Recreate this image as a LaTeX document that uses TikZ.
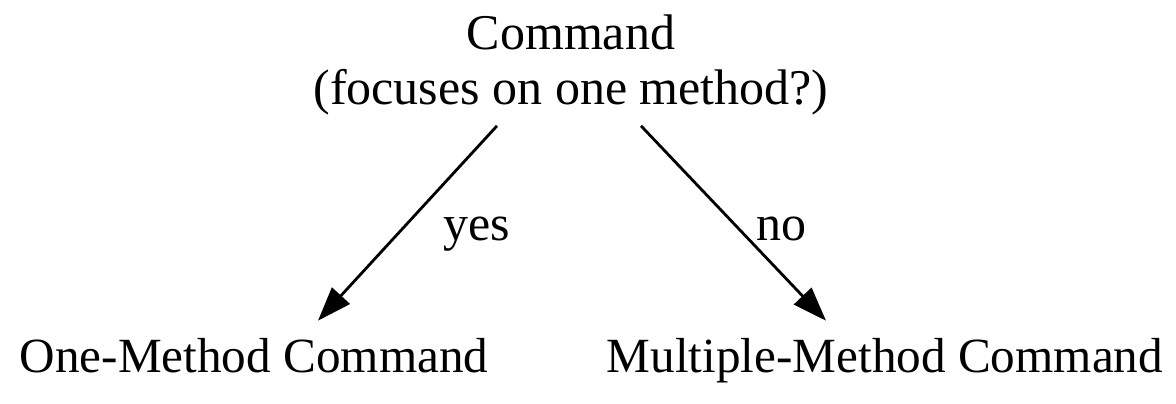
\documentclass[tikz,border=0pt]{standalone}
\usepackage{fontspec}
\setmainfont{Liberation Serif}
\usetikzlibrary{arrows.meta}
\begin{document}
\begin{tikzpicture}[x=1pt,y=-1pt,
  lbl/.style={font=\fontsize{50}{55}\selectfont, inner sep=0pt, align=center},
  leaf/.style={font=\fontsize{49.2}{55}\selectfont, inner sep=0pt},
  arr/.style={line width=2.8pt, -{Triangle[length=34pt,width=24pt]}}]
\useasboundingbox (0,0) rectangle (1176,404);
\node[lbl, anchor=base] (top) at (571,105) {Command\\(focuses on one method?)};
\node[leaf, anchor=base] (left) at (254,372) {One-Method Command};
\node[leaf, anchor=base] (right) at (885,372) {Multiple-Method Command};
\draw[arr] ([shift={(-74,10)}]top.south) -- ([shift={(64,-17)}]left.north);
\draw[arr] ([shift={(70,10)}]top.south) -- ([shift={(-59,-17)}]right.north);
\node[lbl, anchor=base] (yes) at (477,240) {yes};
\node[lbl, anchor=base] (no) at (781,240) {no};
\end{tikzpicture}
\end{document}
